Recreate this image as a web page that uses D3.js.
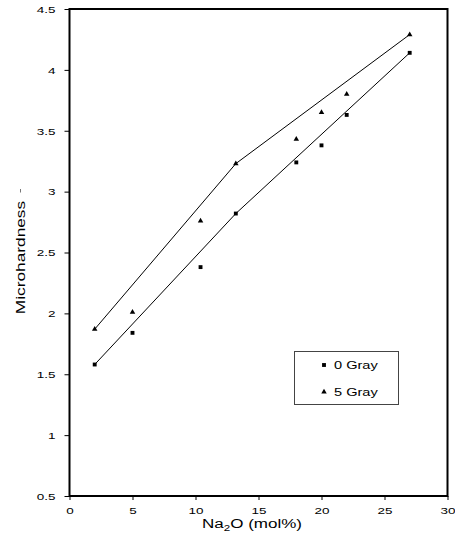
<!DOCTYPE html>
<html><head><meta charset="utf-8">
<script src="https://cdn.jsdelivr.net/npm/d3@7"></script>
<style>body{margin:0;background:#fff}svg{display:block;font-family:"Liberation Sans",Arial,sans-serif}</style>
</head><body><svg id="c" width="455" height="536"></svg>
<script>
const naX = [2, 5, 10.4, 13.2, 18, 20, 22, 27];
const gray0 = [1.58, 1.84, 2.38, 2.82, 3.24, 3.38, 3.63, 4.14];
const gray5 = [1.87, 2.01, 2.76, 3.23, 3.43, 3.65, 3.80, 4.29];
const fitX = [2, 13.2, 27];
const fit0 = [1.58, 2.82, 4.14];
const fit5 = [1.87, 3.23, 4.29];
const xTicks = [0, 5, 10, 15, 20, 25, 30];
const yTicks = [0.5, 1, 1.5, 2, 2.5, 3, 3.5, 4, 4.5];
const seriesNames = ["0 Gray", "5 Gray"];

const svg = d3.select("#c");
const L = 69.5, R = 447.5, T = 9, B = 496;
const x = d3.scaleLinear().domain([0, 30]).range([L, R]);
const y = d3.scaleLinear().domain([0.5, 4.5]).range([B, T]);
const SX = 1.42;

// axes
const xa = svg.append("g").attr("transform", `translate(0,${B})`)
  .call(d3.axisBottom(x).tickValues(xTicks).tickFormat(d3.format("d")).tickSize(4));
const ya = svg.append("g").attr("transform", `translate(${L},0)`)
  .call(d3.axisLeft(y).tickValues(yTicks).tickFormat(d => String(d)).tickSize(5));
[xa, ya].forEach(g => {
  g.select(".domain").remove();
  g.selectAll("line").attr("stroke", "#000").attr("stroke-width", 1);
  g.selectAll("text").attr("font-size", 9.5).attr("fill", "#000")
    .attr("font-family", "Liberation Sans, Arial, sans-serif")
    .attr("transform", `scale(${SX},1)`);
});
xa.selectAll("text").attr("dy", null).attr("y", 18);
ya.selectAll("text").attr("dy", "0.35em").attr("x", -14 / SX);

// frame
svg.append("rect").attr("x", L).attr("y", T).attr("width", R - L).attr("height", B - T)
  .attr("fill", "none").attr("stroke", "#000").attr("stroke-width", 2);

// fit lines
const line = d3.line().x(d => x(d[0])).y(d => y(d[1]));
[fit0, fit5].forEach(f => {
  svg.append("path").datum(fitX.map((v, i) => [v, f[i]])).attr("d", line)
    .attr("fill", "none").attr("stroke", "#000").attr("stroke-width", 1);
});

// markers
const sq = d3.symbol().type(d3.symbolSquare).size(15);
const tri = d3.symbol().type(d3.symbolTriangle).size(13);
svg.append("g").selectAll("path").data(naX.map((v, i) => [v, gray0[i]])).join("path")
  .attr("d", sq).attr("transform", d => `translate(${x(d[0])},${y(d[1])})`).attr("fill", "#000");
svg.append("g").selectAll("path").data(naX.map((v, i) => [v, gray5[i]])).join("path")
  .attr("d", tri).attr("transform", d => `translate(${x(d[0])},${y(d[1])})`).attr("fill", "#000");

// legend
const lg = svg.append("g");
lg.append("rect").attr("x", 294.5).attr("y", 351.5).attr("width", 104).attr("height", 53)
  .attr("fill", "#fff").attr("stroke", "#444").attr("stroke-width", 1);
lg.append("path").attr("d", sq).attr("transform", "translate(324,365)").attr("fill", "#000");
lg.append("path").attr("d", tri).attr("transform", "translate(324,392)").attr("fill", "#000");
lg.append("text").attr("transform", "translate(334,369) scale(1.27,1)").attr("font-size", 11.5).text(seriesNames[0]);
lg.append("text").attr("transform", "translate(334,396) scale(1.27,1)").attr("font-size", 11.5).text(seriesNames[1]);

// axis titles
const xt = svg.append("text").attr("transform", "translate(252,528) scale(1.36,1)")
  .attr("text-anchor", "middle").attr("font-size", 12.5);
xt.append("tspan").text("Na");
xt.append("tspan").attr("font-size", 8.5).attr("dy", 2.5).text("2");
xt.append("tspan").attr("dy", -2.5).text("O (mol%)");
svg.append("text").attr("transform", "translate(25,257.5) rotate(-90) scale(1.28,1)").attr("text-anchor", "middle")
  .attr("font-size", 13.5).text("Microhardness");
svg.append("line").attr("x1", 20.5).attr("x2", 20.5).attr("y1", 189).attr("y2", 192.5).attr("stroke", "#777").attr("stroke-width", 1);
</script></body></html>
